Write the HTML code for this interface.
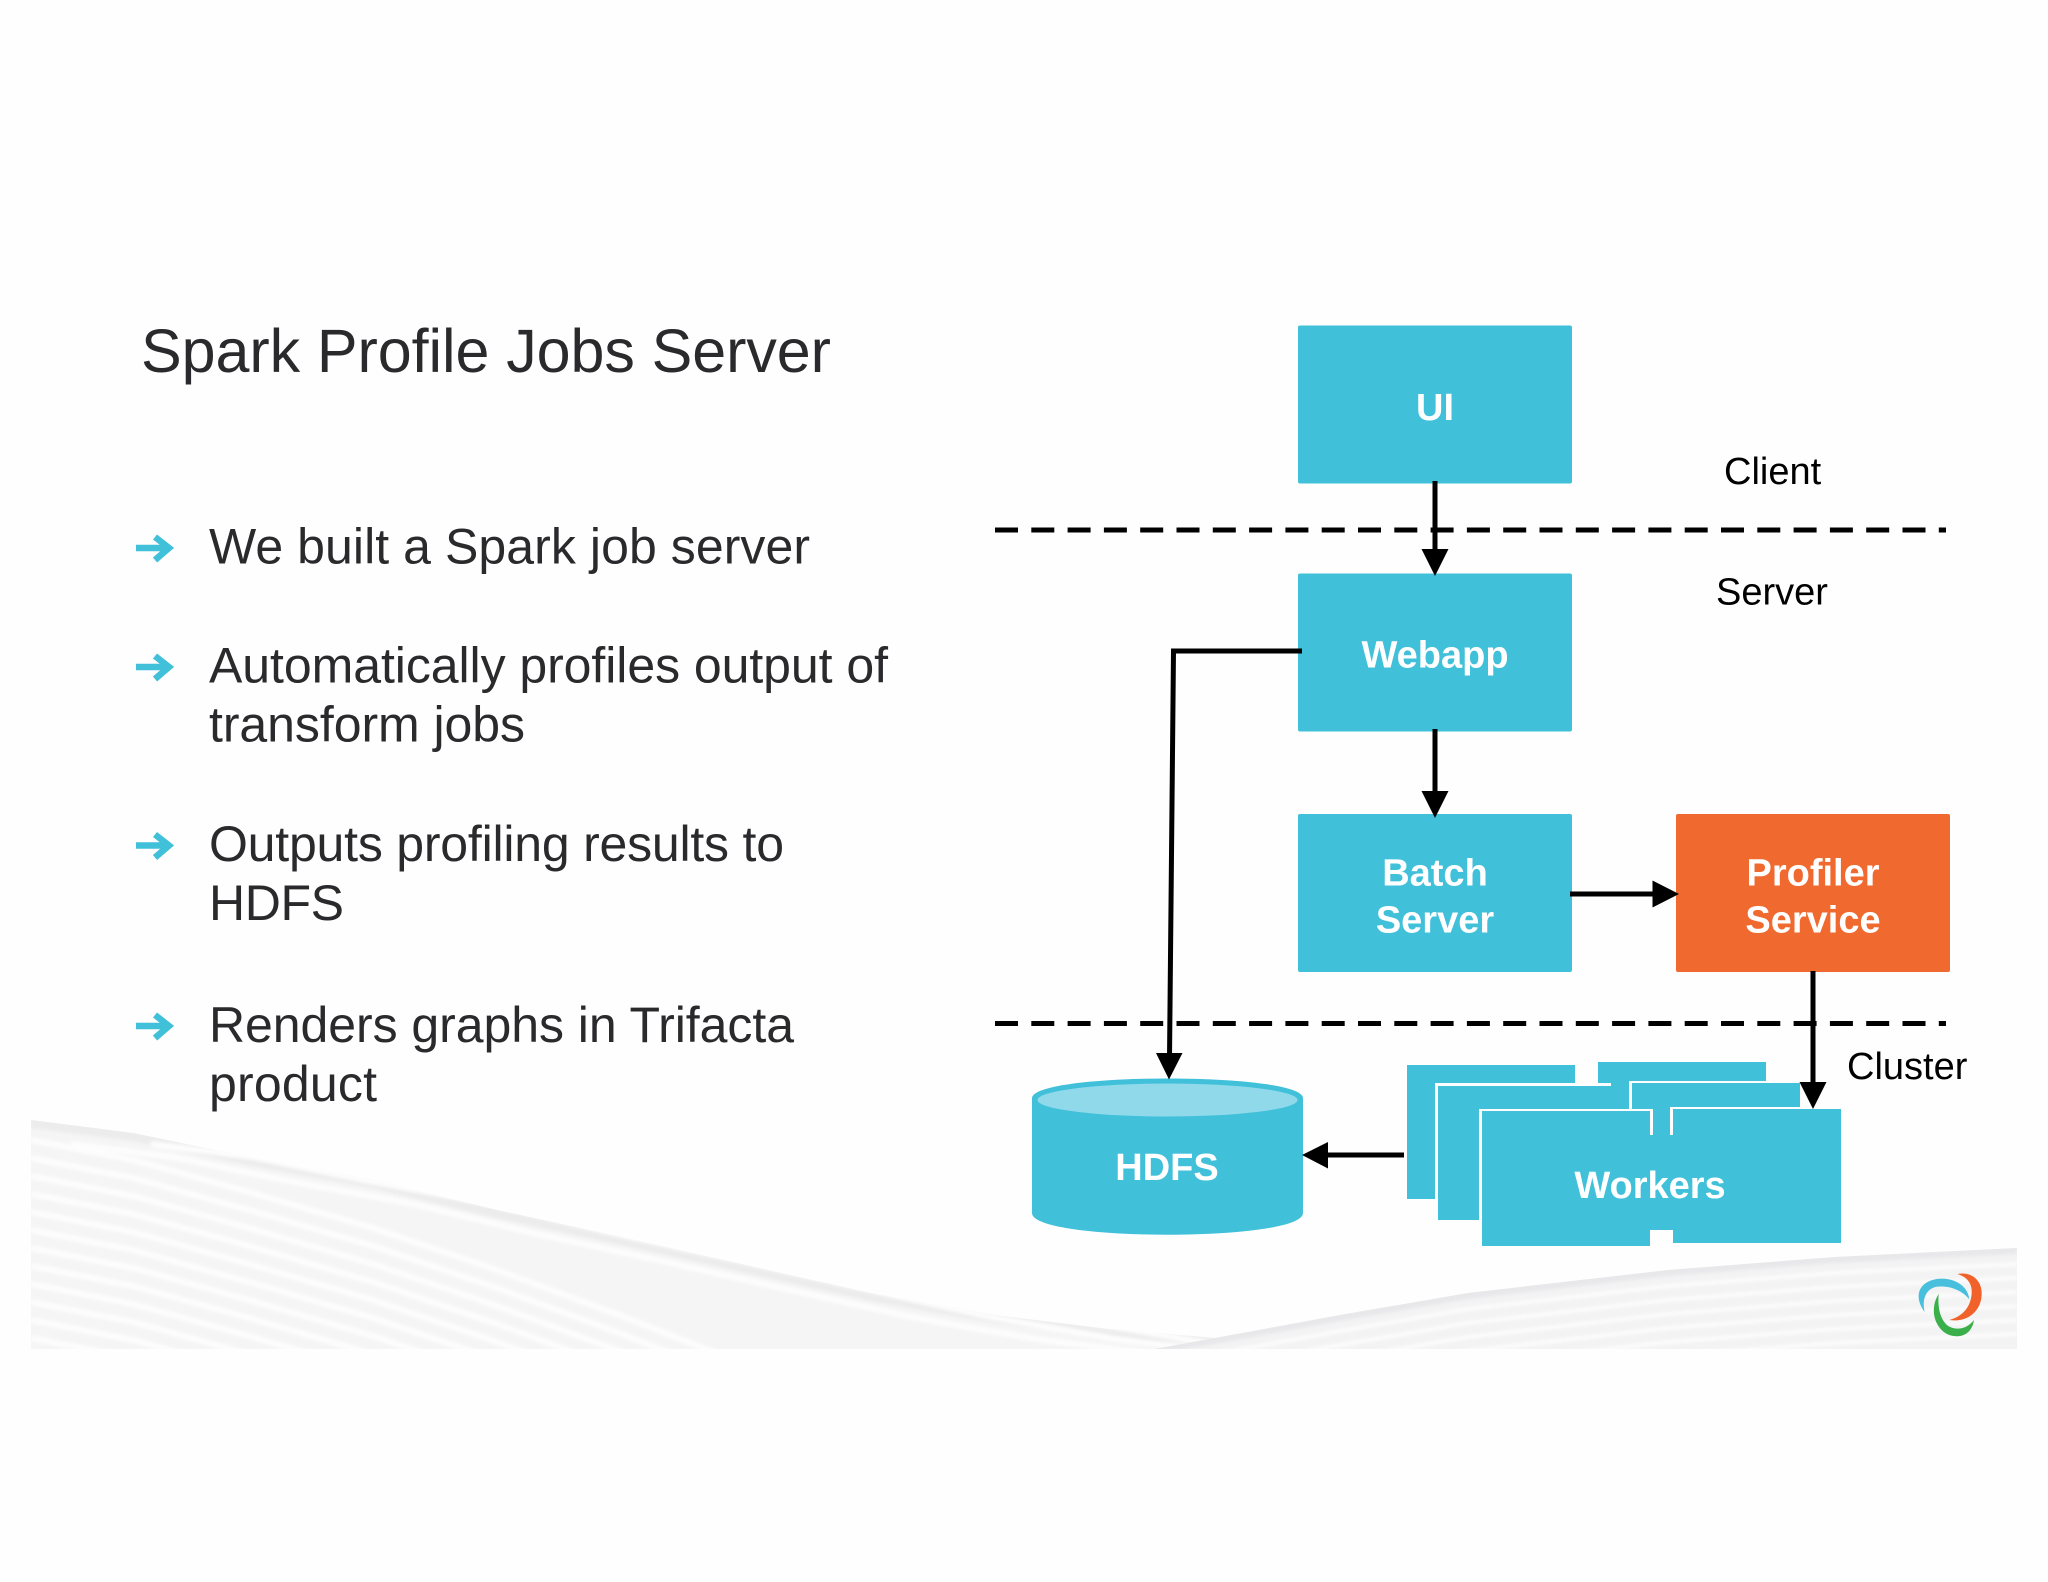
<!DOCTYPE html>
<html><head><meta charset="utf-8"><style>
html,body{margin:0;padding:0;background:#fefefe}
svg{display:block}
text{font-family:"Liberation Sans",Arial,sans-serif}
.t{fill:#2a2a2d;font-size:50px}
.l{fill:#000;font-size:38px}
.b{fill:#fff;font-size:38px;font-weight:bold;text-anchor:middle}
</style></head><body>
<svg xmlns="http://www.w3.org/2000/svg" width="2048" height="1582" viewBox="0 0 2048 1582">
<defs>
<path id="c" d="M31 1120 L133 1133 L249 1157 L373 1180 L497 1210 L622 1237 L746 1265 L871 1293 L995 1315 L1100 1328 L1215 1338"/>
<path id="d" d="M31 1120 L133 1140 L249 1172 L373 1208 L497 1250 L622 1296 L746 1345 L871 1400"/>
<path id="r" d="M1154 1348 L1215 1338 L1340 1315 L1468 1293 L1668 1270 L1835 1257 L2017 1248"/>
<clipPath id="lw"><path d="M31 1120 L133 1133 L249 1157 L373 1180 L497 1210 L622 1237 L746 1265 L871 1293 L995 1315 L1100 1328 L1215 1338 L1260 1349 L31 1349 Z"/></clipPath>
<clipPath id="rw"><path d="M1154 1349 L1215 1338 L1340 1315 L1468 1293 L1668 1270 L1835 1257 L2017 1248 L2017 1349 Z"/></clipPath>
<filter id="s" x="-5%" y="-20%" width="110%" height="140%"><feGaussianBlur stdDeviation="1.5"/></filter>
</defs>
<rect width="2048" height="1582" fill="#fefefe"/>
<!-- left wave -->
<g clip-path="url(#lw)">
<rect x="31" y="1110" width="1240" height="239" fill="#f5f5f6"/>
<g filter="url(#s)">
<use href="#c" fill="none" stroke="#ececed" stroke-width="16"/>
<g fill="none" stroke="#fdfdfd" stroke-width="6">
<use href="#c" x="40" y="24"/><use href="#c" x="120" y="24"/><use href="#c" x="200" y="26"/><use href="#c" x="280" y="28"/>
<use href="#d" y="20"/><use href="#d" y="38"/><use href="#d" y="56"/><use href="#d" y="74"/><use href="#d" y="92"/><use href="#d" y="110"/><use href="#d" y="128"/><use href="#d" y="146"/><use href="#d" y="164"/><use href="#d" y="182"/><use href="#d" y="200"/><use href="#d" y="218"/>
</g>
</g>
</g>
<!-- right wave -->
<g clip-path="url(#rw)">
<rect x="1150" y="1245" width="870" height="104" fill="#f3f3f4"/>
<g filter="url(#s)">
<use href="#r" fill="none" stroke="#e8e8ea" stroke-width="12"/>
<g fill="none" stroke="#fcfcfc" stroke-width="4">
<use href="#r" y="16"/><use href="#r" y="30"/><use href="#r" y="44"/><use href="#r" y="58"/><use href="#r" y="72"/><use href="#r" y="86"/>
</g>
</g>
</g>
<!-- logo -->
<g transform="translate(1880,1240) scale(.3333)">
<path d="M134 216 C100 170 115 126 170 117 C218 110 264 135 268 178 C248 152 210 136 172 140 C142 144 124 172 134 216Z" fill="#48bfdd"/>
<path d="M232 102 C282 93 312 130 304 175 C296 222 255 247 208 240 C245 230 268 206 274 170 C280 135 265 112 232 102Z" fill="#f0622a"/>
<path d="M176 162 C148 205 162 264 205 284 C242 298 276 282 282 240 C262 266 232 272 208 260 C182 244 172 205 176 162Z" fill="#3aaf4a"/>
</g>
<!-- title and bullets -->
<text x="141" y="372" style="font-size:61px" fill="#2a2a2d" textLength="690">Spark Profile Jobs Server</text>
<text class="t" x="209" y="563.5" textLength="601">We built a Spark job server</text>
<text class="t" x="209" y="682.5" textLength="679">Automatically profiles output of</text>
<text class="t" x="209" y="741.5" textLength="316">transform jobs</text>
<text class="t" x="209" y="861" textLength="575">Outputs profiling results to</text>
<text class="t" x="209" y="920" textLength="135">HDFS</text>
<text class="t" x="209" y="1042" textLength="585">Renders graphs in Trifacta</text>
<text class="t" x="209" y="1101" textLength="168">product</text>
<g fill="none" stroke="#41c0da" stroke-width="6.5">
<path d="M136 548 H168 M155 537 L169 548 L155 560"/>
<path d="M136 667 H168 M155 656 L169 667 L155 679"/>
<path d="M136 845.5 H168 M155 834.5 L169 845.5 L155 857.5"/>
<path d="M136 1026 H168 M155 1015 L169 1026 L155 1038"/>
</g>
<!-- dashed lines -->
<g stroke="#000" stroke-width="5" stroke-dasharray="23 13.3" fill="none">
<path d="M995 530 H1946"/>
<path d="M995 1023.5 H1946"/>
</g>
<!-- boxes -->
<g fill="#41c0da">
<rect x="1298" y="325.5" width="274" height="158" rx="2"/>
<rect x="1298" y="573.5" width="274" height="158" rx="2"/>
<rect x="1298" y="814" width="274" height="158" rx="2"/>
</g>
<rect x="1676" y="814" width="274" height="158" rx="2" fill="#f0692e"/>
<!-- HDFS -->
<path d="M1032 1098 C1034 1072 1301 1072 1303 1098 V1213 C1303 1242 1032 1242 1032 1213 Z" fill="#41c0da"/>
<ellipse cx="1167.5" cy="1100" rx="130" ry="16.5" fill="#8fd9ea"/>
<!-- workers -->
<rect x="1407" y="1065" width="168" height="134" fill="#41c0da"/>
<rect x="1598" y="1062" width="168" height="48" fill="#41c0da"/>
<rect x="1435" y="1083" width="176" height="30" fill="#fefefe"/>
<rect x="1435" y="1083" width="3" height="116" fill="#fefefe"/>
<rect x="1438" y="1086" width="171" height="134" fill="#41c0da"/>
<rect x="1629" y="1081" width="171" height="28" fill="#fefefe"/>
<rect x="1632" y="1083" width="168" height="26" fill="#41c0da"/>
<rect x="1609" y="1086" width="20" height="24" fill="#41c0da"/>
<rect x="1479" y="1109" width="174" height="137" fill="#fefefe"/>
<rect x="1482" y="1111" width="168" height="135" fill="#41c0da"/>
<rect x="1670" y="1107" width="171" height="30" fill="#fefefe"/>
<rect x="1673" y="1109" width="168" height="134" fill="#41c0da"/>
<rect x="1653" y="1109" width="17" height="30" fill="#41c0da"/>
<rect x="1650" y="1135" width="24" height="95" fill="#41c0da"/>
<!-- connectors -->
<g stroke="#000" stroke-width="5" fill="none">
<path d="M1435 481 V555"/>
<path d="M1435 729 V795"/>
<path d="M1570 894 H1656"/>
<path d="M1813 971 V1088"/>
<path d="M1302 651 H1173.5 L1169.5 1058"/>
<path d="M1404 1155 H1325"/>
</g>
<g fill="#000">
<path d="M1421.5 549 H1448.5 L1435 576 Z"/>
<path d="M1421.5 791 H1448.5 L1435 818 Z"/>
<path d="M1652.5 880.5 V907.5 L1679 894 Z"/>
<path d="M1799.5 1082 H1826.5 L1813 1109 Z"/>
<path d="M1156 1053 H1182.5 L1169 1079.5 Z"/>
<path d="M1328 1142 V1168.5 L1302 1155 Z"/>
</g>
<!-- labels -->
<text class="b" x="1435" y="420">UI</text>
<text class="b" x="1435" y="667.5">Webapp</text>
<text class="b" x="1435" y="885.5">Batch</text>
<text class="b" x="1435" y="932.5">Server</text>
<text class="b" x="1813" y="885.5">Profiler</text>
<text class="b" x="1813" y="932.5">Service</text>
<text class="b" x="1167" y="1180">HDFS</text>
<text class="b" x="1650" y="1198">Workers</text>
<text class="l" x="1724" y="484">Client</text>
<text class="l" x="1716" y="604.5">Server</text>
<text class="l" x="1847" y="1079">Cluster</text>
</svg>
</body></html>
